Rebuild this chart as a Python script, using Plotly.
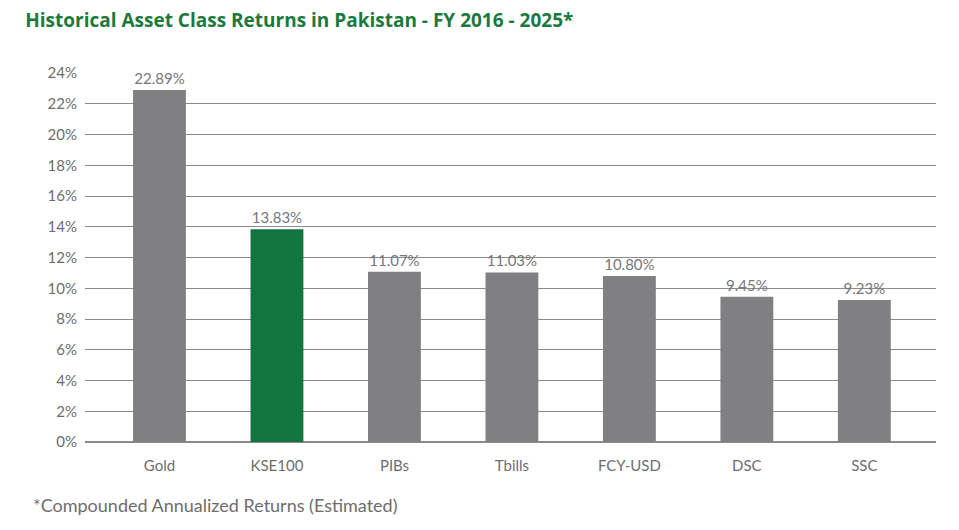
import plotly.graph_objects as go

categories = ["Gold", "KSE100", "PIBs", "Tbills", "FCY-USD", "DSC", "SSC"]
returns = [22.89, 13.83, 11.07, 11.03, 10.80, 9.45, 9.23]
labels = ["22.89%", "13.83%", "11.07%", "11.03%", "10.80%", "9.45%", "9.23%"]
tick_vals = list(range(0, 26, 2))
tick_text = [f"{v}%" for v in tick_vals]

grey = "#808083"
green = "#117540"
colors = [green if c == "KSE100" else grey for c in categories]

fig = go.Figure(go.Bar(
    x=categories, y=returns, text=labels, textposition="outside",
    marker=dict(color=colors, line=dict(width=0)),
    textfont=dict(color="#77777a", size=15), cliponaxis=False,
))

fig.update_layout(
    width=959, height=530,
    paper_bgcolor="white", plot_bgcolor="white",
    font=dict(family="Lato, Open Sans, sans-serif", color="#6d6d70", size=14),
    margin=dict(l=77, r=31, t=65, b=96, autoexpand=False),
    bargap=0.55,
    showlegend=False,
    title=dict(text="<b>Historical Asset Class Returns in Pakistan - FY 2016 - 2025*</b>",
               x=0.018, xanchor="left", y=0.99, yanchor="top",
               font=dict(color="#1a7a3e", size=19, family="Open Sans, sans-serif")),
    annotations=[dict(text="*Compounded Annualized Returns (Estimated)",
                      xref="paper", yref="paper", x=-0.063, y=-0.135,
                      xanchor="left", yanchor="top", showarrow=False,
                      font=dict(size=18, color="#6d6d70"))],
)
fig.update_yaxes(range=[0, 24], tickvals=tick_vals, ticktext=tick_text,
                 showgrid=True, gridcolor="#8a8a8d", gridwidth=1,
                 zeroline=True, zerolinecolor="#8a8a8d",
                 ticks="outside", ticklen=4, tickcolor="white",
                 tickfont=dict(size=15))
fig.update_xaxes(showline=False, tickfont=dict(size=15), ticklen=10,
                 ticks="outside", tickcolor="white", range=[-0.634, 6.61])

fig.write_html("out.html")
